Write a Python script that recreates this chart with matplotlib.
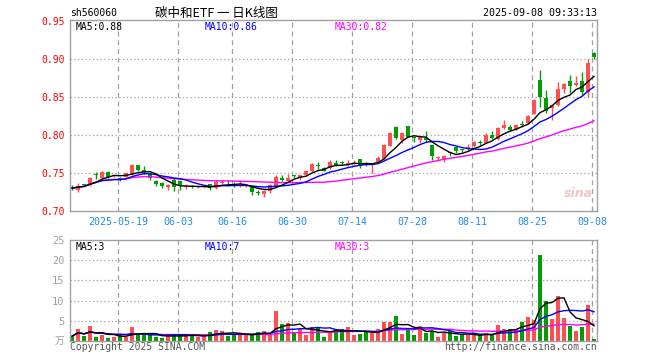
import numpy as np
import pandas as pd
import matplotlib
matplotlib.use("Agg")
from matplotlib import pyplot as plt

# daily candles, 2025-05-07 .. 2025-09-08
opens = [0.731, 0.727, 0.735, 0.734, 0.749, 0.743, 0.751, 0.746, 0.743, 0.745,
         0.749, 0.760, 0.754, 0.749, 0.740, 0.737, 0.732, 0.741, 0.740, 0.731,
         0.733, 0.731, 0.731, 0.735, 0.730, 0.737, 0.736, 0.736, 0.733, 0.733,
         0.731, 0.725, 0.722, 0.726, 0.733, 0.744, 0.740, 0.747, 0.743, 0.747,
         0.752, 0.760, 0.756, 0.757, 0.763, 0.765, 0.760, 0.762, 0.768, 0.763,
         0.761, 0.765, 0.769, 0.786, 0.811, 0.794, 0.812, 0.797, 0.793, 0.796,
         0.787, 0.770, 0.768, 0.777, 0.784, 0.781, 0.781, 0.785, 0.791, 0.790,
         0.800, 0.795, 0.809, 0.810, 0.807, 0.814, 0.816, 0.828, 0.873, 0.849,
         0.836, 0.839, 0.860, 0.871, 0.866, 0.871, 0.857, 0.908]
highs = [0.734, 0.737, 0.736, 0.745, 0.751, 0.752, 0.752, 0.747, 0.745, 0.751,
         0.762, 0.761, 0.759, 0.750, 0.741, 0.738, 0.735, 0.743, 0.741, 0.735,
         0.734, 0.734, 0.732, 0.736, 0.741, 0.741, 0.741, 0.738, 0.741, 0.734,
         0.732, 0.728, 0.727, 0.735, 0.747, 0.748, 0.749, 0.748, 0.748, 0.753,
         0.763, 0.764, 0.758, 0.767, 0.767, 0.766, 0.767, 0.767, 0.769, 0.765,
         0.763, 0.772, 0.788, 0.804, 0.812, 0.804, 0.812, 0.799, 0.799, 0.805,
         0.787, 0.773, 0.774, 0.778, 0.785, 0.782, 0.788, 0.792, 0.794, 0.803,
         0.805, 0.810, 0.820, 0.813, 0.815, 0.819, 0.826, 0.847, 0.886, 0.859,
         0.840, 0.870, 0.868, 0.879, 0.877, 0.883, 0.900, 0.909]
lows = [0.728, 0.725, 0.733, 0.733, 0.742, 0.742, 0.744, 0.745, 0.739, 0.743,
        0.748, 0.753, 0.749, 0.741, 0.733, 0.730, 0.728, 0.726, 0.727, 0.729,
        0.730, 0.730, 0.730, 0.727, 0.729, 0.735, 0.733, 0.731, 0.731, 0.732,
        0.721, 0.721, 0.719, 0.724, 0.732, 0.740, 0.739, 0.744, 0.741, 0.746,
        0.751, 0.755, 0.752, 0.755, 0.759, 0.761, 0.759, 0.761, 0.757, 0.759,
        0.750, 0.764, 0.768, 0.785, 0.795, 0.790, 0.797, 0.791, 0.789, 0.791,
        0.767, 0.766, 0.765, 0.773, 0.776, 0.777, 0.780, 0.784, 0.787, 0.789,
        0.795, 0.793, 0.808, 0.805, 0.806, 0.811, 0.815, 0.827, 0.837, 0.829,
        0.820, 0.838, 0.855, 0.855, 0.865, 0.852, 0.850, 0.900]
closes = [0.730, 0.733, 0.734, 0.744, 0.748, 0.751, 0.745, 0.746, 0.742, 0.750,
          0.760, 0.754, 0.751, 0.744, 0.735, 0.733, 0.734, 0.731, 0.733, 0.733,
          0.732, 0.732, 0.731, 0.730, 0.738, 0.738, 0.735, 0.733, 0.734, 0.733,
          0.725, 0.724, 0.726, 0.734, 0.745, 0.741, 0.743, 0.746, 0.747, 0.752,
          0.762, 0.759, 0.753, 0.765, 0.761, 0.763, 0.763, 0.763, 0.761, 0.762,
          0.762, 0.770, 0.787, 0.803, 0.796, 0.803, 0.797, 0.796, 0.797, 0.793,
          0.772, 0.771, 0.773, 0.776, 0.779, 0.780, 0.784, 0.791, 0.790, 0.800,
          0.796, 0.809, 0.813, 0.807, 0.813, 0.813, 0.825, 0.846, 0.850, 0.832,
          0.839, 0.860, 0.867, 0.865, 0.868, 0.856, 0.895, 0.902]
# volume, 10k units
volumes = [1.2, 2.9, 1.2, 3.7, 1.0, 1.5, 0.8, 1.0, 1.6, 1.0,
           3.4, 1.6, 1.6, 1.6, 1.0, 0.8, 1.2, 1.6, 1.6, 1.2,
           1.6, 1.0, 1.2, 2.2, 2.7, 2.4, 1.2, 1.6, 1.6, 1.6,
           1.6, 2.2, 2.4, 1.6, 7.4, 4.1, 4.4, 2.2, 2.9, 1.6,
           3.4, 3.4, 1.0, 2.1, 2.9, 2.9, 3.4, 1.5, 1.7, 2.2,
           2.1, 2.9, 4.7, 4.7, 6.2, 1.7, 3.0, 1.4, 3.7, 2.0,
           2.4, 1.0, 2.0, 2.4, 1.2, 1.7, 1.4, 1.4, 1.4, 2.1,
           1.5, 4.0, 2.9, 2.9, 2.9, 4.7, 5.9, 5.2, 21.2, 9.8,
           5.5, 11.2, 5.7, 3.8, 2.4, 3.4, 8.9, 0.4]

date_labels = ["2025-05-19", "06-03", "06-16", "06-30", "07-14", "07-28", "08-11", "08-25", "09-08"]
date_index = [8, 18, 27, 37, 47, 57, 67, 77, 87]
price_ticks = [0.70, 0.75, 0.80, 0.85, 0.90, 0.95]
vol_ticks = [5, 10, 15, 20, 25]

RED = "#ff5050"
GREEN = "#009e00"
GRAY = "#a0a0a0"
MONO = "DejaVu Sans Mono"

df = pd.DataFrame({"o": opens, "h": highs, "l": lows, "c": closes, "v": volumes})
x = np.arange(len(df))
up = df.c >= df.o
colors = np.where(up, RED, GREEN)
for n in (5, 10, 30):
    df["ma%d" % n] = df.c.rolling(n, min_periods=1).mean()
    df["vma%d" % n] = df.v.rolling(n, min_periods=1).mean()

fig = plt.figure(figsize=(6.6, 3.6), dpi=100)
ax = fig.add_axes([70 / 660, 1 - 211 / 360, 527 / 660, 191 / 360])
axv = fig.add_axes([70 / 660, 1 - 341 / 360, 527 / 660, 101 / 360])

grid_x = np.array(date_index) - 0.33

# price panel
ax.vlines(x, df.l, df.h, colors=colors, linewidth=1)
body_lo = np.minimum(df.o, df.c)
body_h = np.maximum(np.abs(df.c - df.o), 0.0009)
ax.bar(x, body_h, bottom=body_lo, width=0.78, color=colors, linewidth=0)
ax.plot(x, df.ma30, color="#ff00ff", lw=1)
ax.plot(x, df.ma10, color="#0000ff", lw=1)
ax.plot(x, df.ma5, color="black", lw=1)

ax.set_xlim(-0.35, 87.5)
ax.set_ylim(0.70, 0.9513)
ax.set_yticks(price_ticks)
ax.set_yticklabels(["%.2f" % t for t in price_ticks], color="red", family=MONO, fontsize=7)
ax.set_xticks(grid_x)
ax.set_xticklabels(date_labels, color="#1e8ee8", family=MONO, fontsize=7.2)
ax.tick_params(length=0, pad=4)
ax.tick_params(axis="x", pad=4)
for t in price_ticks[1:-1]:
    ax.axhline(t, color=GRAY, lw=0.9, ls=(0, (1, 2)), zorder=0)
for gx in grid_x:
    ax.axvline(gx, color=GRAY, lw=0.9, ls=(0, (4, 3)), zorder=0)

ax.text(0.01, 0.965, "MA5:0.88", transform=ax.transAxes, family=MONO, fontsize=7, color="black", va="center")
ax.text(0.255, 0.965, "MA10:0.86", transform=ax.transAxes, family=MONO, fontsize=7, color="#0000ff", va="center")
ax.text(0.502, 0.965, "MA30:0.82", transform=ax.transAxes, family=MONO, fontsize=7, color="#ff00ff", va="center")
ax.text(0.965, 0.09, "sina", transform=ax.transAxes, fontsize=9, color="#f3c4c4",
        fontweight="bold", fontstyle="italic", ha="center", va="center")

# volume panel
axv.bar(x, df.v, width=0.78, color=colors, linewidth=0)
axv.plot(x, df.vma30, color="#ff00ff", lw=1)
axv.plot(x, df.vma10, color="#0000ff", lw=1)
axv.plot(x, df.vma5, color="black", lw=1)
axv.set_xlim(-0.35, 87.5)
axv.set_ylim(0, 25)
axv.set_yticks(vol_ticks)
axv.set_yticklabels([str(t) for t in vol_ticks], color=GRAY, family=MONO, fontsize=7.5)
axv.set_xticks([])
axv.tick_params(length=0, pad=4)
for t in vol_ticks[:-1]:
    axv.axhline(t, color=GRAY, lw=0.9, ls=(0, (1, 2)), zorder=0)
for gx in grid_x:
    axv.axvline(gx, color=GRAY, lw=0.9, ls=(0, (4, 3)), zorder=0)
axv.text(0.01, 0.93, "MA5:3", transform=axv.transAxes, family=MONO, fontsize=7, color="black", va="center")
axv.text(0.255, 0.93, "MA10:7", transform=axv.transAxes, family=MONO, fontsize=7, color="#0000ff", va="center")
axv.text(0.502, 0.93, "MA30:3", transform=axv.transAxes, family=MONO, fontsize=7, color="#ff00ff", va="center")
axv.text(-0.01, 0.0, "万", transform=axv.transAxes, family=["Noto Sans CJK SC", "DejaVu Sans"],
         fontsize=7, color=GRAY, ha="right", va="center")

for a in (ax, axv):
    for s in a.spines.values():
        s.set_color(GRAY)
        s.set_linewidth(1)

# header and footer
fig.text(70 / 660, 1 - 13 / 360, "sh560060", family=MONO, fontsize=7, va="center")
fig.text(216 / 660, 1 - 13 / 360, "碳中和ETF 一 日K线图", family=["Noto Sans CJK SC", "DejaVu Sans"],
         fontsize=9, ha="center", va="center")
fig.text(597 / 660, 1 - 13 / 360, "2025-09-08 09:33:13", family=MONO, fontsize=7.2, ha="right", va="center")
fig.text(70 / 660, 1 - 347 / 360, "Copyright 2025 SINA.COM", family=MONO, fontsize=7, color="#555555", va="center")
fig.text(597 / 660, 1 - 347 / 360, "http://finance.sina.com.cn", family=MONO, fontsize=7, color="#555555",
         ha="right", va="center")

fig.savefig("out.png", dpi=100)
